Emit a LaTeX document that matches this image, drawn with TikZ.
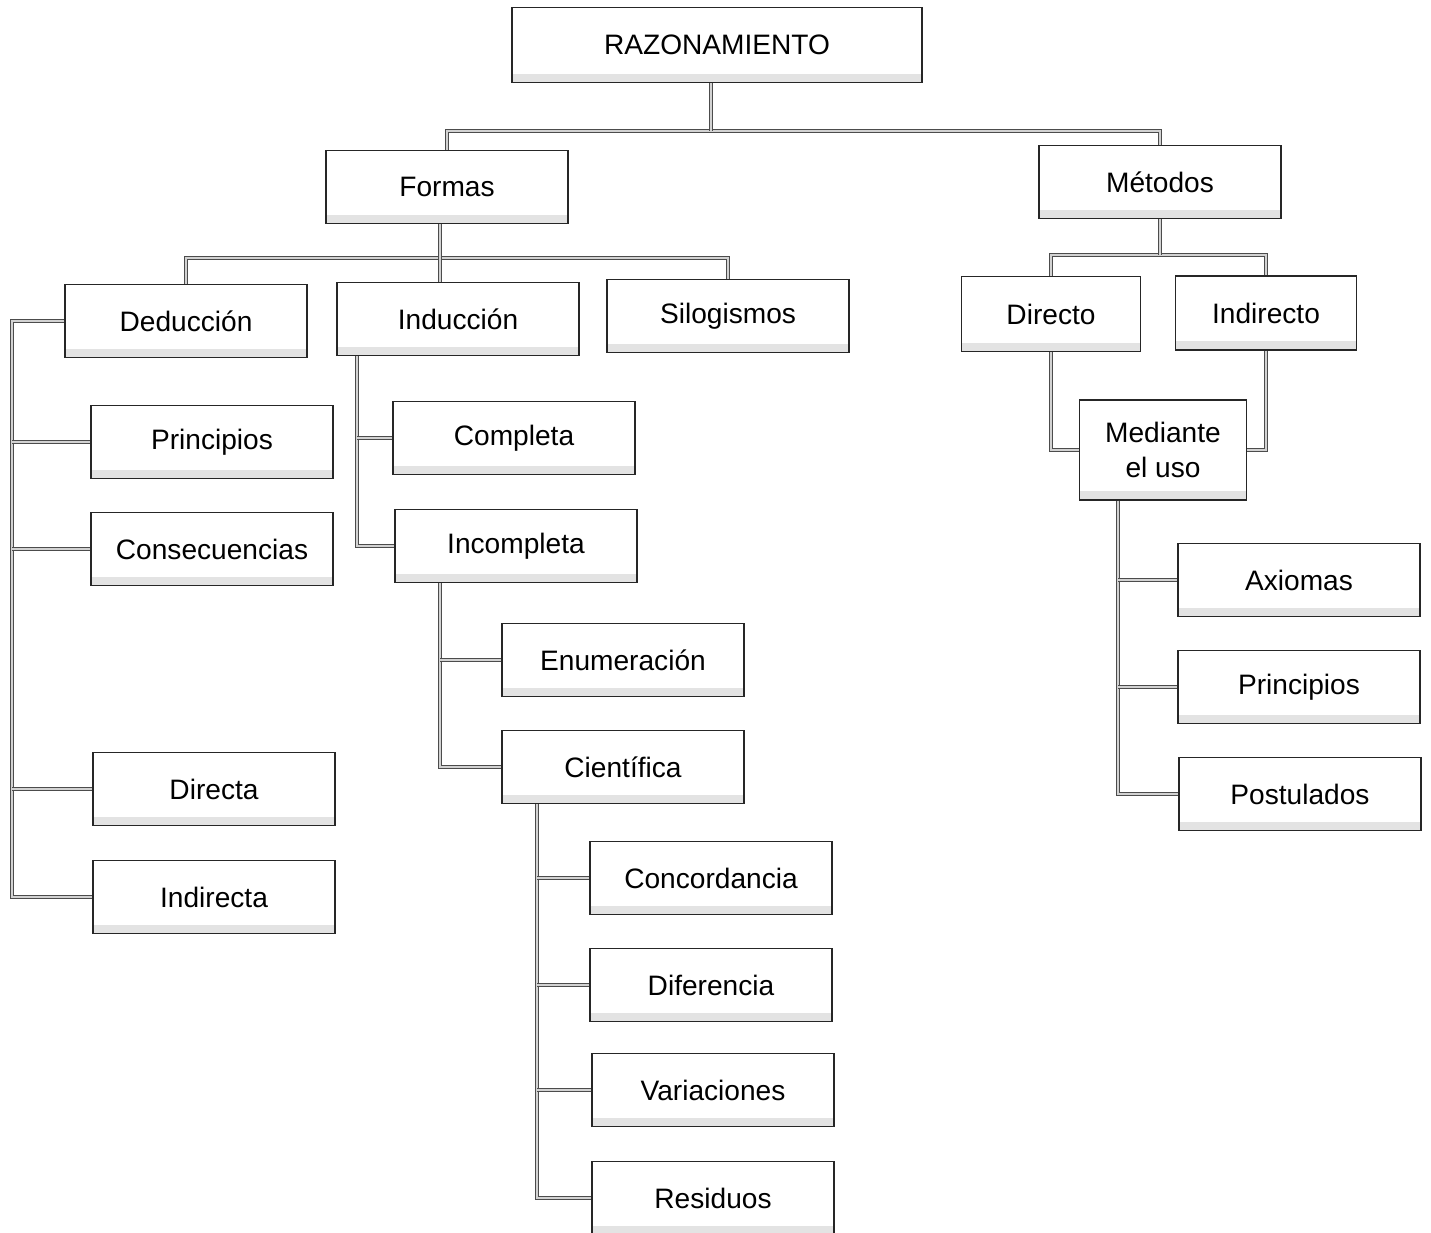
\documentclass[tikz,border=0pt]{standalone}
\usepackage{fontspec}
\setmainfont{Liberation Sans}

\begin{document}
\begin{tikzpicture}[
    x=0.02cm, y=-0.02cm,
    box/.style={draw=black!85, line width=0.8pt, rectangle, align=center, minimum width=4.84cm, minimum height=1.46cm, inner sep=0pt, fill=white, font=\fontsize{16}{20}\selectfont,
        path picture={\fill[gray!22] (path picture bounding box.south west) rectangle ([yshift=5pt]path picture bounding box.south east);}},
    link/.style={draw=black!70, line width=0.45pt, double=gray!35, double distance=1.2pt}
]
\useasboundingbox[fill=white] (0,0) rectangle (1431,1232);

% Nodes
\node[box, minimum width=8.2cm, minimum height=1.5cm] (raz) at (717,45) {RAZONAMIENTO};
\node[box] (formas) at (447,187) {Formas};
\node[box] (metodos) at (1160,182) {Métodos};

\node[box] (deduccion) at (186,321) {Deducción};
\node[box] (induccion) at (458,319) {Inducción};
\node[box] (silogismos) at (728,316) {Silogismos};
\node[box, minimum width=3.58cm, minimum height=1.5cm] (directo) at (1051,314) {Directo};
\node[box, minimum width=3.62cm, minimum height=1.48cm] (indirecto) at (1266,313) {Indirecto};
\node[box, minimum width=3.34cm, minimum height=2cm] (mediante) at (1163,450) {Mediante\\el uso};

\node[box] (principiosA) at (212,442) {Principios};
\node[box] (consecuencias) at (212,549) {Consecuencias};
\node[box] (directa) at (214,789) {Directa};
\node[box] (indirecta) at (214,897) {Indirecta};

\node[box] (completa) at (514,438) {Completa};
\node[box] (incompleta) at (516,546) {Incompleta};
\node[box] (enumeracion) at (623,660) {Enumeración};
\node[box] (cientifica) at (623,767) {Científica};

\node[box] (concordancia) at (711,878) {Concordancia};
\node[box] (diferencia) at (711,985) {Diferencia};
\node[box] (variaciones) at (713,1090) {Variaciones};
\node[box] (residuos) at (713,1198) {Residuos};

\node[box] (axiomas) at (1299,580) {Axiomas};
\node[box] (principiosB) at (1299,687) {Principios};
\node[box] (postulados) at (1300,794) {Postulados};

% Spines
\coordinate (busA) at (711,131);
\coordinate (busB) at (440,258);
\coordinate (busC) at (1160,255);
\coordinate (spineA) at (12,0);
\coordinate (spineB) at (357,0);
\coordinate (spineC) at (440,0);
\coordinate (spineD) at (537,0);
\coordinate (spineE) at (1118,0);

% Links
\draw[link] (formas.north) |- (busA) -| (metodos.north);
\draw[link] (raz.south -| busA) -- (busA);

\draw[link] (deduccion.north) |- (busB) -| (silogismos.north);
\draw[link] (formas.south -| busB) -- (induccion.north -| busB);

\draw[link] (directo.north) |- (busC) -| (indirecto.north);
\draw[link] (metodos.south) -- (busC);

\draw[link] (deduccion.west) -- (deduccion.west -| spineA) |- (indirecta.west);
\foreach \n in {principiosA, consecuencias, directa}
    \draw[link] (spineA |- \n.west) -- (\n.west);

\draw[link] (induccion.south -| spineB) |- (incompleta.west);
\draw[link] (spineB |- completa.west) -- (completa.west);

\draw[link] (incompleta.south -| spineC) |- (cientifica.west);
\draw[link] (spineC |- enumeracion.west) -- (enumeracion.west);

\draw[link] (cientifica.south -| spineD) |- (residuos.west);
\foreach \n in {concordancia, diferencia, variaciones}
    \draw[link] (spineD |- \n.west) -- (\n.west);

\draw[link] (directo.south) |- (mediante.west);
\draw[link] (indirecto.south) |- (mediante.east);

\draw[link] (mediante.south -| spineE) |- (postulados.west);
\foreach \n in {axiomas, principiosB}
    \draw[link] (spineE |- \n.west) -- (\n.west);

\end{tikzpicture}
\end{document}
